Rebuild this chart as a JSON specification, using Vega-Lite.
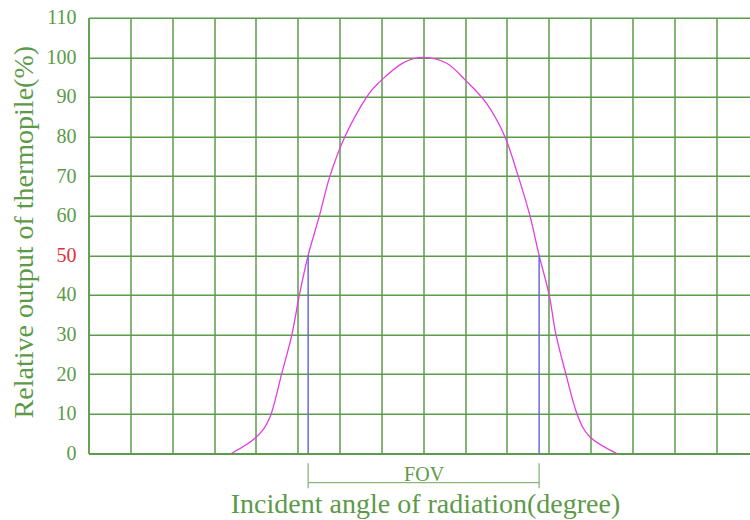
{
  "$schema": "https://vega.github.io/schema/vega-lite/v6.json",
  "width": 661.5,
  "height": 435.6,
  "autosize": "none",
  "padding": {"left": 88.5, "top": 17.7, "right": 0, "bottom": 66.7},
  "config": {"view": {"stroke": null}, "font": "Liberation Serif"},
  "datasets": {
    "curve": [
      {"angle": -45.8, "value": 0},
      {"angle": -40, "value": 4},
      {"angle": -36.6, "value": 9.2},
      {"angle": -33.8, "value": 20.2},
      {"angle": -31.4, "value": 29.9},
      {"angle": -29.6, "value": 40},
      {"angle": -27.5, "value": 50},
      {"angle": -24.8, "value": 60},
      {"angle": -22.3, "value": 70},
      {"angle": -18.7, "value": 80},
      {"angle": -13.5, "value": 90},
      {"angle": -9.9, "value": 94.3},
      {"angle": -4.8, "value": 98.6},
      {"angle": 0, "value": 100},
      {"angle": 5.6, "value": 98.5},
      {"angle": 10, "value": 94.3},
      {"angle": 15.1, "value": 88.4},
      {"angle": 19.5, "value": 80},
      {"angle": 22.7, "value": 70},
      {"angle": 25.5, "value": 60},
      {"angle": 27.7, "value": 50},
      {"angle": 30.1, "value": 40},
      {"angle": 31.7, "value": 30.1},
      {"angle": 34.1, "value": 20},
      {"angle": 36.7, "value": 10.1},
      {"angle": 39.8, "value": 4.2},
      {"angle": 46.2, "value": 0}
    ],
    "fov": [
      {"angle": -27.5, "value": 0, "value2": 50},
      {"angle": 27.7, "value": 0, "value2": 50}
    ],
    "bracketEnds": [
      {"angle": -27.5, "value": -2.5, "value2": -8.8},
      {"angle": 27.7, "value": -2.5, "value2": -8.8}
    ],
    "bracket": [
      {"angle": -27.5, "angle2": 27.7, "value": -7.4}
    ],
    "label": [
      {"angle": 0.2, "value": -7.0, "text": "FOV"}
    ]
  },
  "encoding": {
    "x": {
      "field": "angle", "type": "quantitative",
      "scale": {"domain": [-80, 78.1], "nice": false, "zero": false},
      "axis": {
        "values": [-80, -70, -60, -50, -40, -30, -20, -10, 0, 10, 20, 30, 40, 50, 60, 70],
        "labels": false, "ticks": false,
        "domain": true, "domainColor": "#5b9b4b", "domainWidth": 1.5,
        "grid": true, "gridColor": "#5b9b4b", "gridWidth": 1.5, "gridOpacity": 1,
        "title": "Incident angle of radiation(degree)",
        "titleFont": "Liberation Serif", "titleFontSize": 28, "titleFontWeight": "normal",
        "titleColor": "#5c9a48", "titleX": 336.5, "titleY": 59,
        "titleBaseline": "alphabetic", "titleAlign": "center"
      }
    },
    "y": {
      "field": "value", "type": "quantitative",
      "scale": {"domain": [0, 110], "nice": false},
      "axis": {
        "values": [0, 10, 20, 30, 40, 50, 60, 70, 80, 90, 100, 110],
        "ticks": false, "labelPadding": 12.5, "labelOverlap": false,
        "labelFont": "Liberation Serif", "labelFontSize": 20,
        "labelColor": {"condition": {"test": "datum.value == 50", "value": "#e0303a"}, "value": "#5c9a48"},
        "domain": true, "domainColor": "#5b9b4b", "domainWidth": 1.5,
        "grid": true, "gridColor": "#5b9b4b", "gridWidth": 1.5, "gridOpacity": 1,
        "title": "Relative output of thermopile(%)",
        "titleFont": "Liberation Serif", "titleFontSize": 28, "titleFontWeight": "normal",
        "titleColor": "#5c9a48", "titleX": -64.5, "titleY": 214,
        "titleAngle": -90, "titleBaseline": "middle", "titleAlign": "center"
      }
    }
  },
  "layer": [
    {
      "data": {"name": "curve"},
      "mark": {"type": "line", "color": "#e23ee2", "strokeWidth": 1.3, "interpolate": "cardinal", "tension": 0}
    },
    {
      "data": {"name": "fov"},
      "mark": {"type": "rule", "color": "#6a6ae6", "strokeWidth": 1.5},
      "encoding": {"y2": {"field": "value2"}}
    },
    {
      "data": {"name": "bracketEnds"},
      "mark": {"type": "rule", "color": "#8ab67a", "strokeWidth": 1.3, "clip": false},
      "encoding": {"y2": {"field": "value2"}}
    },
    {
      "data": {"name": "bracket"},
      "mark": {"type": "rule", "color": "#8ab67a", "strokeWidth": 1.3, "clip": false},
      "encoding": {"x2": {"field": "angle2"}}
    },
    {
      "data": {"name": "label"},
      "mark": {"type": "text", "color": "#5c9a48", "font": "Liberation Serif", "fontSize": 20, "baseline": "alphabetic", "align": "center", "clip": false},
      "encoding": {"text": {"field": "text"}}
    }
  ]
}
